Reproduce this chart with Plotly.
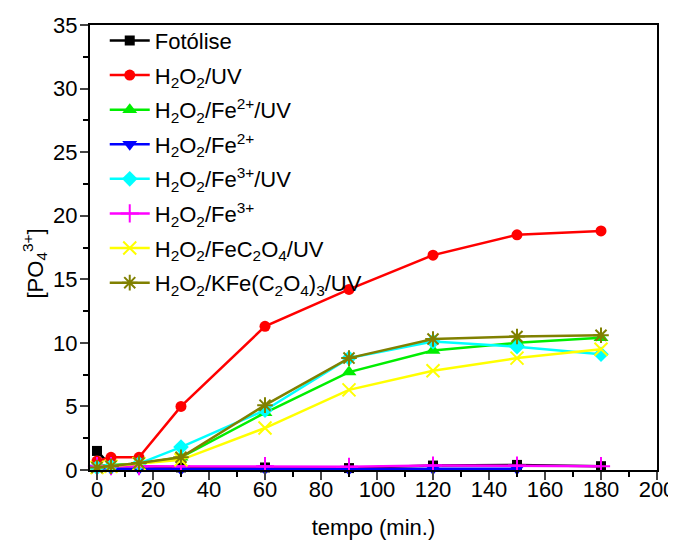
import plotly.graph_objects as go

tempo = [0, 5, 15, 30, 60, 90, 120, 150, 180]
tempo_fe2 = [0, 5, 15, 30, 60, 90, 120, 150]

fotolise = [1.5, 0.3, 0.3, 0.2, 0.2, 0.15, 0.35, 0.4, 0.3]
h2o2_uv = [0.7, 1.0, 1.0, 5.0, 11.3, 14.2, 16.9, 18.5, 18.8]
h2o2_fe2_uv = [0.3, 0.4, 0.5, 1.0, 4.5, 7.7, 9.4, 10.0, 10.4]
h2o2_fe2 = [0.15, 0.1, 0.1, 0.05, 0.1, 0.05, 0.1, 0.1]
h2o2_fe3_uv = [0.2, 0.3, 0.5, 1.8, 4.7, 8.8, 10.1, 9.7, 9.1]
h2o2_fe3 = [0.3, 0.3, 0.3, 0.3, 0.3, 0.25, 0.35, 0.35, 0.3]
h2o2_fec2o4_uv = [0.2, 0.3, 0.5, 0.8, 3.3, 6.3, 7.8, 8.8, 9.5]
h2o2_kfe_uv = [0.2, 0.3, 0.55, 1.0, 5.1, 8.8, 10.3, 10.5, 10.6]

names = [
    "Fotólise",
    "H<sub>2</sub>O<sub>2</sub>/UV",
    "H<sub>2</sub>O<sub>2</sub>/Fe<sup>2+</sup>/UV",
    "H<sub>2</sub>O<sub>2</sub>/Fe<sup>2+</sup>",
    "H<sub>2</sub>O<sub>2</sub>/Fe<sup>3+</sup>/UV",
    "H<sub>2</sub>O<sub>2</sub>/Fe<sup>3+</sup>",
    "H<sub>2</sub>O<sub>2</sub>/FeC<sub>2</sub>O<sub>4</sub>/UV",
    "H<sub>2</sub>O<sub>2</sub>/KFe(C<sub>2</sub>O<sub>4</sub>)<sub>3</sub>/UV",
]
colors = ["#000000", "#ff0000", "#00ee00", "#0000ff", "#00ffff", "#ff00ff", "#ffff00", "#808000"]
symbols = ["square", "circle", "triangle-up", "triangle-down", "diamond",
           "cross-thin-open", "x-thin-open", "asterisk-open"]
sizes = [10, 11, 13, 13, 12, 13, 13, 13]
xs = [tempo, tempo, tempo, tempo_fe2, tempo, tempo, tempo, tempo]
ys = [fotolise, h2o2_uv, h2o2_fe2_uv, h2o2_fe2, h2o2_fe3_uv, h2o2_fe3, h2o2_fec2o4_uv, h2o2_kfe_uv]

fig = go.Figure()
for i in range(8):
    sym = symbols[i]
    line_sym = sym.endswith("-open")
    fig.add_trace(go.Scatter(
        x=xs[i], y=ys[i], name=names[i], mode="lines+markers", legendgroup=str(i),
        line=dict(color=colors[i], width=2.5),
        marker=dict(symbol=sym, size=sizes[i], color=colors[i],
                    line=dict(color=colors[i], width=2 if line_sym else 0)),
        cliponaxis=False,
    ))

font = "Liberation Sans, Arial, sans-serif"
# page body has an 8px offset: figure coordinates = screen - 8
fig.update_layout(
    width=668, height=535,
    margin=dict(l=82, r=19, t=14, b=73),
    plot_bgcolor="white", paper_bgcolor="white",
    font=dict(family=font, size=22, color="black"),
    legend=dict(x=0.026, y=1.012, xanchor="left", yanchor="top",
                bgcolor="rgba(0,0,0,0)", font=dict(size=22), tracegroupgap=3,
                itemwidth=40, maxheight=1),
    xaxis=dict(range=[-2.5, 200], tickmode="array", tickvals=list(range(0, 201, 20)),
               ticks="outside", ticklen=8, tickwidth=2, showline=True, linewidth=2,
               linecolor="black", mirror=True, showgrid=False, zeroline=False,
               tickfont=dict(size=22), automargin=False, ticklabelstandoff=-9,
               minor=dict(tickvals=list(range(10, 200, 20)), ticks="outside", ticklen=5,
                          tickwidth=2, tickcolor="black"),
               title=dict(text="tempo (min.)", font=dict(size=22), standoff=18)),
    yaxis=dict(range=[0, 35], tickmode="array", tickvals=list(range(0, 36, 5)),
               ticks="outside", ticklen=8, tickwidth=2, showline=True, linewidth=2,
               linecolor="black", mirror=True, showgrid=False, zeroline=False,
               tickfont=dict(size=22), automargin=False, ticklabelstandoff=-2,
               minor=dict(tickvals=[2.5 + 5 * k for k in range(7)], ticks="outside",
                          ticklen=5, tickwidth=2, tickcolor="black")),
    annotations=[dict(text="[PO<sub>4</sub><sup>3+</sup>]", xref="paper", yref="paper",
                      x=-0.097, y=0.464, textangle=-90, showarrow=False,
                      xanchor="center", yanchor="middle", font=dict(size=22))],
)
fig.write_html("out.html")
